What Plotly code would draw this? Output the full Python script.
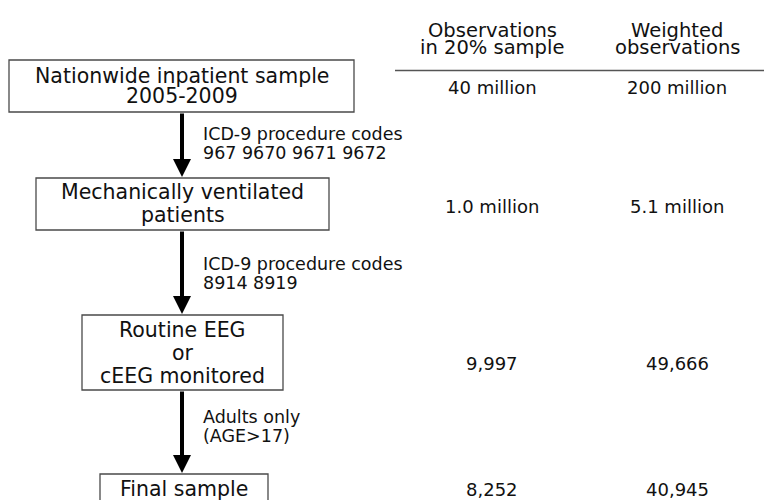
import plotly.graph_objects as go

# Flow steps (each box's text lines)
step_labels = [
    ["Nationwide inpatient sample", "2005-2009"],
    ["Mechanically ventilated", "patients"],
    ["Routine EEG", "or", "cEEG monitored"],
    ["Final sample"],
]
filter_labels = [
    ["ICD-9 procedure codes", "967 9670 9671 9672"],
    ["ICD-9 procedure codes", "8914 8919"],
    ["Adults only", "(AGE>17)"],
]
column_headers = [["Observations", "in 20% sample"], ["Weighted", "observations"]]
obs_20pct = ["40 million", "1.0 million", "9,997", "8,252"]
weighted_obs = ["200 million", "5.1 million", "49,666", "40,945"]

# layout geometry (pixel coordinates, y downwards)
boxes = [(9, 354, 60, 112), (36, 329, 178, 230), (82, 283, 315, 390), (100, 268, 474, 515)]
box_line_y = [[75.5, 95.5], [191.5, 214.5], [330, 353, 375.5], [489]]
filter_line_y = [[134, 153], [264, 283], [416.5, 436]]
header_line_y = [[30, 47.5], [30, 47.5]]
value_y = [87, 206, 363, 489]
col_x = [492, 677]
arrow_x = 182
filter_x = 201

fig = go.Figure()
fig.add_trace(go.Scatter(x=[0], y=[0], mode="markers", marker=dict(opacity=0),
                         hoverinfo="skip", showlegend=False))

FONT = "DejaVu Sans, sans-serif"
INK = "#111111"
shapes = []
annotations = []


def txt(x, y, s, size, xanchor="center"):
    return dict(x=x, y=y, text=s, showarrow=False, xref="x", yref="y", xanchor=xanchor,
                yanchor="middle", font=dict(family=FONT, size=size, color=INK))


for (x0, x1, y0, y1), lines, ys in zip(boxes, step_labels, box_line_y):
    shapes.append(dict(type="rect", x0=x0, x1=x1, y0=y0, y1=y1, xref="x", yref="y",
                       line=dict(color="#4a4a4a", width=1.3), fillcolor="white", layer="below"))
    for s, y in zip(lines, ys):
        annotations.append(txt((x0 + x1) / 2, y, s, 20.5))

for i, lines in enumerate(filter_labels):
    y_start = boxes[i][3]
    y_end = boxes[i + 1][2] - 1
    annotations.append(dict(x=arrow_x, y=y_end, ax=arrow_x, ay=y_start, xref="x", yref="y",
                            axref="x", ayref="y", showarrow=True, arrowhead=2, arrowsize=0.9,
                            arrowwidth=4, arrowcolor="black", text=""))
    for s, y in zip(lines, filter_line_y[i]):
        annotations.append(txt(filter_x, y, s, 17.5, xanchor="left"))

for cx, lines, ys in zip(col_x, column_headers, header_line_y):
    for s, y in zip(lines, ys):
        annotations.append(txt(cx, y, s, 19.5))
shapes.append(dict(type="line", x0=395, x1=764, y0=70.5, y1=70.5, xref="x", yref="y",
                   line=dict(color="#555", width=1.5)))

for vy, a, b in zip(value_y, obs_20pct, weighted_obs):
    annotations.append(txt(col_x[0], vy, a, 18))
    annotations.append(txt(col_x[1], vy, b, 18))

fig.update_layout(
    width=764, height=500, margin=dict(l=0, r=0, t=0, b=0),
    paper_bgcolor="white", plot_bgcolor="white",
    xaxis=dict(range=[0, 764], visible=False, fixedrange=True),
    yaxis=dict(range=[500, 0], visible=False, fixedrange=True),
    shapes=shapes, annotations=annotations, showlegend=False,
)
fig.write_html("out.html", config={"displayModeBar": False},
               post_script="document.body.style.margin='0';document.body.style.overflow='hidden';")
